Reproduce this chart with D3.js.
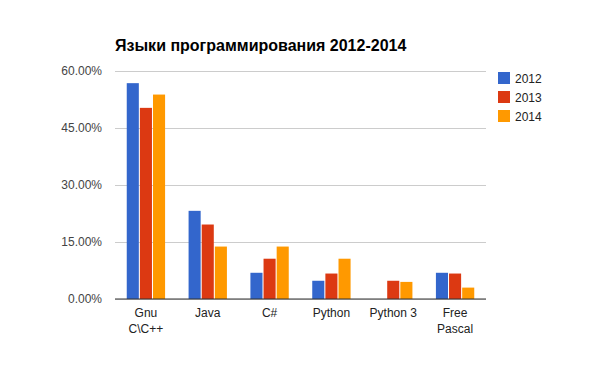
<!DOCTYPE html>
<html>
<head>
<meta charset="utf-8">
<script src="https://cdn.jsdelivr.net/npm/d3@7"></script>
<style>
  body { margin: 0; background: #fff; }
  text { font-family: Arial, "Liberation Sans", sans-serif; }
</style>
</head>
<body>
<script>
// categories and series
const languages = ["Gnu\nC\\C++", "Java", "C#", "Python", "Python 3", "Free\nPascal"];
const years = ["2012", "2013", "2014"];
const v2012 = [56.8, 23.2, 6.9, 4.8, 0, 6.9];
const v2013 = [50.3, 19.6, 10.6, 6.7, 4.8, 6.7];
const v2014 = [53.8, 13.8, 13.8, 10.6, 4.5, 3.0];
const yTicks = [0, 15, 30, 45, 60];
const colors = ["#3366cc", "#dc3912", "#ff9900"];

const series = [v2012, v2013, v2014];

const width = 600;
const height = 371;
const margin = {top: 71, right: 114, bottom: 72, left: 115};

const svg = d3.select('body').append('svg')
    .attr('width', width)
    .attr('height', height);

const x = d3.scaleBand()
    .domain(languages)
    .range([margin.left, width - margin.right])
    .paddingInner(0.38)
    .paddingOuter(0.19);

const xs = d3.scaleBand()
    .domain(years)
    .range([0, x.bandwidth()])
    .paddingInner(0.08);

const y = d3.scaleLinear()
    .domain([0, 60])
    .range([height - margin.bottom, margin.top]);

// title
svg.append('text')
    .attr('x', margin.left)
    .attr('y', 51)
    .attr('font-size', 16)
    .attr('font-weight', 'bold')
    .attr('fill', '#000')
    .text('Языки программирования 2012-2014');

// grid + left axis labels
const yAxis = svg.append('g')
    .attr('transform', `translate(${margin.left},0)`)
    .call(d3.axisLeft(y).tickValues(yTicks)
        .tickSize(-(width - margin.left - margin.right))
        .tickFormat(d => d.toFixed(2) + '%'));
yAxis.select('.domain').remove();
yAxis.selectAll('.tick line').attr('stroke', '#cccccc');
yAxis.selectAll('.tick text')
    .attr('x', -13)
    .attr('fill', '#444')
    .attr('font-size', 12)
    .attr('font-family', 'Arial, "Liberation Sans", sans-serif');

// bars
const groups = svg.selectAll('g.lang')
    .data(languages)
    .join('g')
    .attr('class', 'lang')
    .attr('transform', d => `translate(${x(d)},0)`);

groups.selectAll('rect')
    .data((d, i) => years.map((yr, j) => ({yr, v: series[j][i], c: colors[j]})))
    .join('rect')
    .attr('x', d => xs(d.yr))
    .attr('width', xs.bandwidth())
    .attr('y', d => y(d.v))
    .attr('height', d => y(0) - y(d.v))
    .attr('fill', d => d.c);

// baseline
svg.append('line')
    .attr('x1', margin.left)
    .attr('x2', width - margin.right)
    .attr('y1', y(0))
    .attr('y2', y(0))
    .attr('stroke', '#333')
    .attr('stroke-width', 1);

// category labels
const labels = svg.append('g')
    .selectAll('text')
    .data(languages)
    .join('text')
    .attr('x', d => x(d) + x.bandwidth() / 2)
    .attr('y', y(0) + 18)
    .attr('text-anchor', 'middle')
    .attr('font-size', 12)
    .attr('fill', '#222');

labels.each(function(d) {
    const t = d3.select(this);
    d.split('\n').forEach((line, i) => {
        t.append('tspan')
            .attr('x', x(d) + x.bandwidth() / 2)
            .attr('dy', i === 0 ? 0 : 16)
            .text(line);
    });
});

// legend
const legend = svg.append('g')
    .attr('transform', 'translate(498,72)');

const item = legend.selectAll('g')
    .data(years)
    .join('g')
    .attr('transform', (d, i) => `translate(0,${i * 19})`);

item.append('rect')
    .attr('width', 12)
    .attr('height', 12)
    .attr('fill', (d, i) => colors[i]);

item.append('text')
    .attr('x', 17)
    .attr('y', 10.5)
    .attr('font-size', 12)
    .attr('fill', '#222')
    .text(d => d);
</script>
</body>
</html>
